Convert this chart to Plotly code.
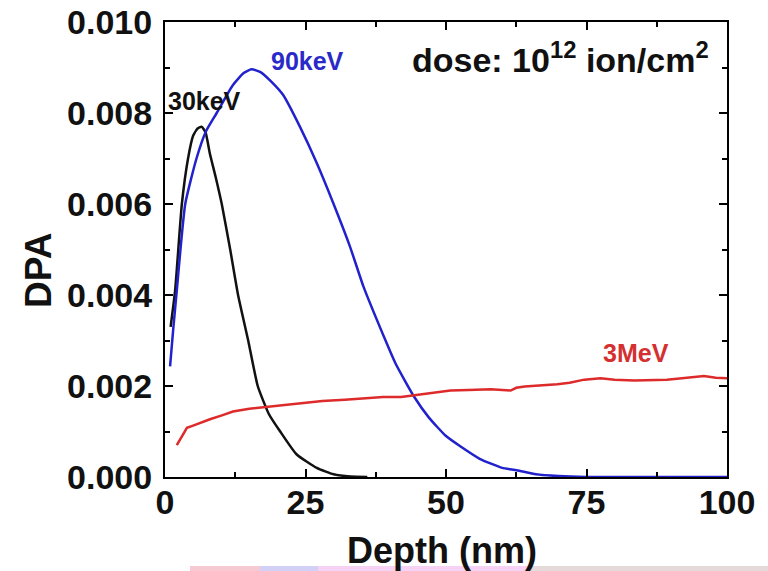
import plotly.graph_objects as go

# 30 keV
depth_30 = [1, 1.8, 3.0, 4.1, 5.0, 5.8, 6.5, 7.2, 8.0, 9.0, 10.1, 11.6, 13.0, 14.8, 16.5, 18.5, 20.5, 23.4, 27.0, 30.0, 33.0, 36.0]
dpa_30 = [0.0033, 0.0041, 0.0060, 0.0070, 0.0075, 0.00766, 0.0077, 0.00758, 0.0071, 0.0066, 0.0060, 0.0050, 0.0040, 0.0030, 0.0020, 0.00138, 0.0010, 0.0005, 0.0002, 0.00006, 0.00001, 0.0]

# 90 keV
depth_90 = [0.9, 1.5, 2.1, 3.6, 5.6, 7.3, 9.2, 12.0, 14.0, 15.4, 17.0, 19.0, 21.0, 24.0, 27.0, 30.0, 32.9, 35.3, 38.9, 41.0, 44.3, 47.0, 50.0, 52.6, 56.0, 60.0, 62.6, 66.0, 70.0, 75.0, 85.0, 100.0]
dpa_90 = [0.00243, 0.0033, 0.0041, 0.0060, 0.0070, 0.0076, 0.0080, 0.0086, 0.00888, 0.00896, 0.0089, 0.00868, 0.0084, 0.0077, 0.0069, 0.0060, 0.00507, 0.00419, 0.0031, 0.0025, 0.00177, 0.0013, 0.0009, 0.00067, 0.0004, 0.0002, 0.00015, 0.00006, 0.00002, 0.0, 0.0, 0.0]

# 3 MeV
depth_3M = [2.1, 3, 3.9, 5, 6.2, 8, 10, 12.1, 15, 18.1, 21, 24, 28, 32, 36, 38.8, 42, 44.8, 48, 50.8, 54, 58, 61.5, 62.5, 64, 67, 69.8, 72, 74.6, 77.5, 80, 83.5, 86, 89.3, 92, 95.9, 98, 100]
dpa_3M = [0.0007, 0.0009, 0.00108, 0.00113, 0.00119, 0.00127, 0.00135, 0.00144, 0.0015, 0.00154, 0.00158, 0.00162, 0.00167, 0.0017, 0.00173, 0.00176, 0.00176, 0.0018, 0.00185, 0.0019, 0.00191, 0.00193, 0.0019, 0.00196, 0.00199, 0.00201, 0.00204, 0.00207, 0.00214, 0.00217, 0.00214, 0.00212, 0.00213, 0.00214, 0.00217, 0.00222, 0.00218, 0.00217]

x_ticks = [0, 25, 50, 75, 100]
y_ticks = [0.000, 0.002, 0.004, 0.006, 0.008, 0.010]
y_tick_labels = ["0.000", "0.002", "0.004", "0.006", "0.008", "0.010"]

FONT = "Liberation Sans, Arial, sans-serif"

fig = go.Figure()
fig.add_trace(go.Scatter(x=depth_30, y=dpa_30, mode="lines", line=dict(color="#111111", width=2.5, shape="spline", smoothing=0.5), showlegend=False))
fig.add_trace(go.Scatter(x=depth_90, y=dpa_90, mode="lines", line=dict(color="#2222cc", width=2.5, shape="spline", smoothing=0.5), showlegend=False))
fig.add_trace(go.Scatter(x=depth_3M, y=dpa_3M, mode="lines", line=dict(color="#dd2a2a", width=2.5), showlegend=False))

annos = [
    dict(x=7.1, y=0.00826, text="30keV", color="#111111", size=25),
    dict(x=25.3, y=0.00914, text="90keV", color="#2a2ac8", size=25),
    dict(x=83.8, y=0.00273, text="3MeV", color="#d43030", size=25),
    dict(x=70.3, y=0.00921, text="dose: 10<sup>12</sup> ion/cm<sup>2</sup>", color="#111111", size=34),
]
for a in annos:
    fig.add_annotation(x=a["x"], y=a["y"], xref="x", yref="y", text=a["text"], showarrow=False,
                       font=dict(family=FONT, size=a["size"], color=a["color"], weight="bold"))

# axis titles
fig.add_annotation(x=(442 - 165) / 562, y=(477 - 550) / 455, xref="paper", yref="paper",
                   text="Depth (nm)", showarrow=False, xanchor="center", yanchor="middle",
                   font=dict(family=FONT, size=36, color="#111111", weight="bold"))
fig.add_annotation(x=(38.5 - 165) / 562, y=(477 - 270.5) / 455, xref="paper", yref="paper",
                   text="DPA", showarrow=False, xanchor="center", yanchor="middle", textangle=-90,
                   font=dict(family=FONT, size=37, color="#111111", weight="bold"))

# bottom coloured strip (scan artefact)
strip = [(190, 260, "#f7c9d2"), (260, 318, "#d2d0f7"), (318, 530, "#f6d2f5"), (530, 768, "#e6d9d9")]
for x0, x1, c in strip:
    fig.add_shape(type="rect", xref="paper", yref="paper",
                  x0=(x0 - 165) / 562, x1=(x1 - 165) / 562,
                  y0=(477 - 571) / 455, y1=(477 - 566) / 455,
                  fillcolor=c, line=dict(width=0), layer="below")

axis_common = dict(showline=True, linecolor="black", linewidth=2, mirror="ticks",
                   ticks="inside", ticklen=8, tickwidth=1.5, tickcolor="black",
                   showgrid=False, zeroline=False, automargin=False,
                   tickfont=dict(family=FONT, size=34, color="#111111", weight="bold"))

fig.update_xaxes(range=[0, 100], tickvals=x_ticks, ticktext=[str(v) for v in x_ticks],
                 minor=dict(ticks="inside", ticklen=5, tickwidth=1.5, dtick=12.5, tick0=0, tickcolor="black"),
                 ticklabelstandoff=-6,
                 **axis_common)
fig.update_yaxes(range=[0, 0.010], tickvals=y_ticks, ticktext=y_tick_labels,
                 minor=dict(ticks="inside", ticklen=5, tickwidth=1.5, dtick=0.001, tick0=0, tickcolor="black"),
                 ticklabelstandoff=4,
                 **axis_common)

fig.update_layout(width=768, height=571, margin=dict(l=165, r=41, t=22, b=94),
                  plot_bgcolor="white", paper_bgcolor="white")

fig.write_html("out.html", config={"displayModeBar": False},
               post_script="document.body.style.margin='0px';")
